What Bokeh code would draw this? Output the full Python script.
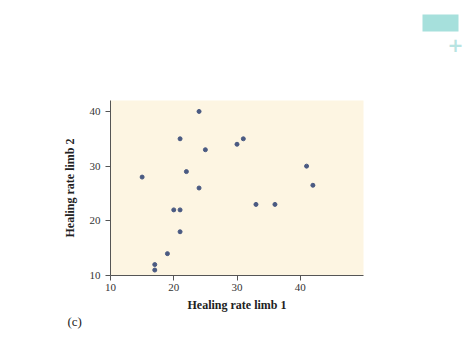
from bokeh.plotting import figure
from bokeh.embed import file_html
from bokeh.resources import INLINE
from bokeh.models import Label, BoxAnnotation, Range1d, FixedTicker, LinearAxis

limb1 = [24, 21, 25, 30, 31, 15, 22, 24, 41, 42, 33, 36, 20, 21, 21, 19, 17, 17]
limb2 = [40, 35, 33, 34, 35, 28, 29, 26, 30, 26.5, 23, 23, 22, 22, 18, 14, 12, 11]
xticks = [10, 20, 30, 40]
yticks = [10, 20, 30, 40]
x_lo, x_hi = 10, 50
y_lo, y_hi = 10, 42

W, H = 474, 355
fl, fr, ft, fb = 110, 363, 100, 275  # plot-area pixel edges
sx = (x_hi - x_lo) / (fr - fl)
sy = (y_hi - y_lo) / (fb - ft)

p = figure(width=W, height=H, output_backend="svg", toolbar_location=None,
           x_range=Range1d(x_lo - fl * sx, x_hi + (W - fr) * sx),
           y_range=Range1d(y_lo - (H - fb) * sy, y_hi + ft * sy),
           x_axis_location=None, y_axis_location=None, min_border=0)
p.background_fill_color = "white"
p.border_fill_color = "white"
p.outline_line_color = None
p.grid.visible = False

p.add_layout(BoxAnnotation(left=x_lo, right=x_hi, bottom=y_lo, top=y_hi,
                           fill_color="#fdf5e2", fill_alpha=1, line_color=None, level="underlay"))

p.scatter(limb1, limb2, size=4, color="#4a5a82")

xa = LinearAxis(fixed_location=y_lo, bounds=(x_lo, x_hi))
ya = LinearAxis(fixed_location=x_lo, bounds=(y_lo, y_hi))
for ax in (xa, ya):
    ax.axis_line_color = "#555555"
    ax.major_tick_line_color = "#555555"
    ax.minor_tick_line_color = None
    ax.major_tick_out = 5
    ax.major_tick_in = 0
    ax.major_label_text_font = "Liberation Serif"
    ax.major_label_text_font_size = "11px"
    ax.major_label_text_color = "#333333"
    ax.axis_label_text_font = "Liberation Serif"
    ax.axis_label_text_font_size = "12px"
    ax.axis_label_text_font_style = "bold"
    ax.axis_label_text_color = "#222222"
xa.ticker = FixedTicker(ticks=xticks)
ya.ticker = FixedTicker(ticks=yticks)
xa.axis_label = "Healing rate limb 1"
ya.axis_label = "Healing rate limb 2"
xa.major_label_standoff = 3
xa.axis_label_standoff = 4
ya.axis_label_standoff = 10
p.add_layout(xa, "below")
p.add_layout(ya, "left")

p.add_layout(Label(x=67, y=H - 328, x_units="screen", y_units="screen", text="(c)",
                   text_font="Liberation Serif", text_font_size="13px", text_color="#222222"))
p.add_layout(BoxAnnotation(left=422, right=458, bottom=H - 31, top=H - 14,
                           left_units="screen", right_units="screen",
                           top_units="screen", bottom_units="screen",
                           fill_color="#a6e0dc", fill_alpha=1, line_color=None))
p.add_layout(Label(x=455, y=H - 44, x_units="screen", y_units="screen", text="+",
                   text_align="center", text_baseline="middle",
                   text_font="DejaVu Sans", text_font_size="19px", text_font_style="bold",
                   text_color="#b8e4e2"))

open("out.html", "w").write(file_html(p, INLINE))
